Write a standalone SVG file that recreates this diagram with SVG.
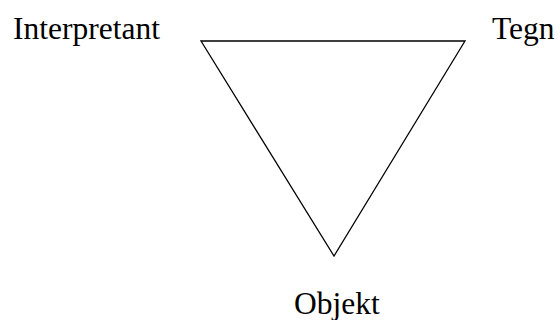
<svg xmlns="http://www.w3.org/2000/svg" width="560" height="320" viewBox="0 0 560 320">
<style>
.lbl{font-family:"Liberation Serif","Times New Roman",serif;font-size:31.5px;fill:#000}
.edge{stroke:#000;stroke-width:1.3;fill:none;stroke-linejoin:miter}
</style>
<rect width="560" height="320" fill="#fff"/>
<g id="connectors">
<polygon class="edge" points="201,41 465,41 334,256"/>
</g>
<g id="interpretant"><text class="lbl" x="13" y="39">Interpretant</text></g>
<g id="tegn"><text class="lbl" x="492" y="39">Tegn</text></g>
<g id="objekt"><text class="lbl" x="294" y="314">Objekt</text></g>
</svg>
